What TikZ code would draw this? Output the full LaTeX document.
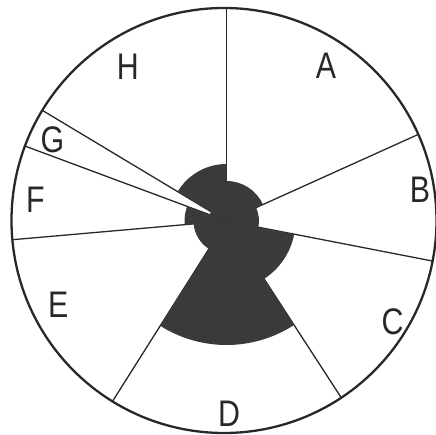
\documentclass[tikz,border=0pt]{standalone}
\usepackage{fontspec}
\setmainfont{Liberation Sans}
\newfontfamily\lblfont[FakeStretch=0.82]{Liberation Sans}
\definecolor{darkfill}{RGB}{58,58,58}
\definecolor{inkc}{RGB}{40,40,40}
\begin{document}
\begin{tikzpicture}[x=1pt,y=1pt,
  ray/.style={line width=1.3pt, draw=inkc},
  rim/.style={line width=2.3pt, draw=inkc},
  lbl/.style={font=\lblfont\fontsize{37}{37}\selectfont, text=inkc, inner sep=0pt, anchor=center}]
\useasboundingbox (0,0) rectangle (436,434);
\coordinate (O) at (226.5,213);
\coordinate (C0) at (224,213.5);
\begin{scope}
  \clip (C0) circle[radius=212.5pt];
  \foreach \a in {90,24.3,-11,-57,237.7,185,159.6,149}
    \draw[ray] (O) -- ++(\a:320pt);
\end{scope}
% dark central region: one sector per segment
\foreach \s/\e/\r in {24.3/90/40, -11/24.3/32.5, -57/-11/69, -122.3/-57/124,
                     185/237.7/33, 159.6/185/42, 149/159.6/18, 90/149/57}
  \fill[darkfill] (O) -- ++(\s:\r pt) arc[start angle=\s, end angle=\e, radius=\r pt] -- cycle;
\draw[rim] (C0) circle[radius=212.5pt];
\node[lbl] (lA) at (326,368) {A};
\node[lbl] (lB) at (420,244) {B};
\node[lbl] (lC) at (392.5,112) {C};
\node[lbl] (lD) at (229,20) {D};
\node[lbl] (lE) at (58.3,129) {E};
\node[lbl] (lF) at (35.5,234) {F};
\node[lbl] (lG) at (52.5,294) {G};
\node[lbl] (lH) at (127.8,367.3) {H};
\end{tikzpicture}
\end{document}
